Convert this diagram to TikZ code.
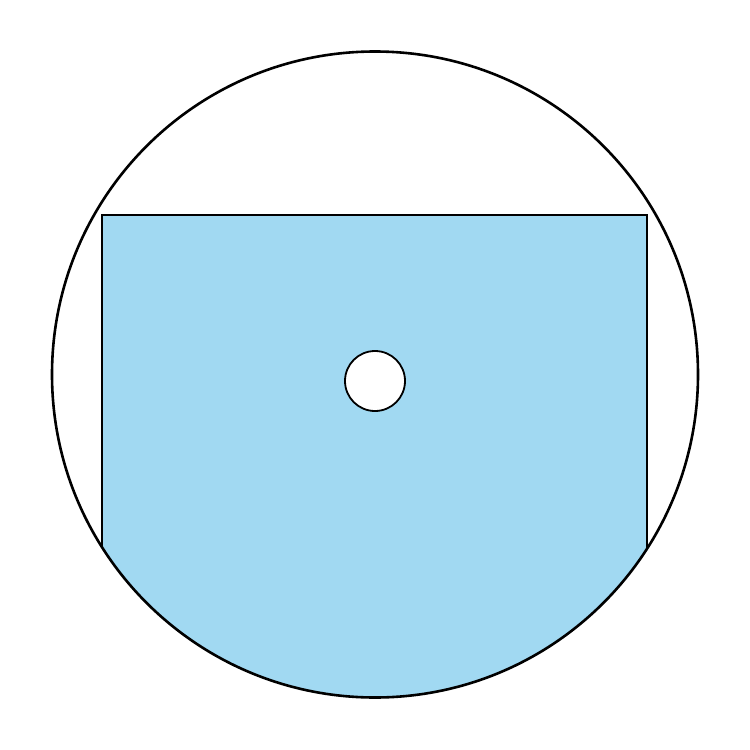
\documentclass[tikz,border=0pt]{standalone}
\definecolor{water}{RGB}{161,217,242}
\begin{document}
\begin{tikzpicture}[x=1pt,y=-1pt,
  rim/.style={draw=black,line width=2.6pt},
  tank/.style={fill=water,draw=black,line width=1.5pt},
  hole/.style={fill=white,draw=black,line width=1.8pt}]
\useasboundingbox (0,0) rectangle (750,750);
\coordinate (c) at (375,374.5);
\begin{scope}
  \clip (c) circle (323);
  \path[tank] (102,215) rectangle (647,760);
\end{scope}
\draw[rim] (c) circle (323);
\path[hole] (375,381) circle (30);
\end{tikzpicture}
\end{document}
